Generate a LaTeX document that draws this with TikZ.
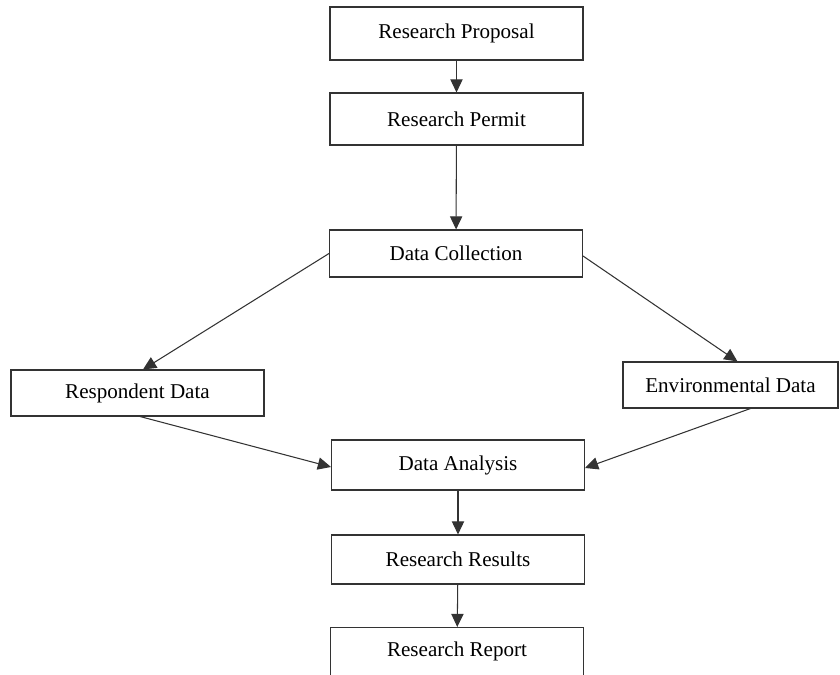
\documentclass[tikz,border=0pt]{standalone}
\usepackage{fontspec}
\setmainfont{Liberation Serif}
\usetikzlibrary{arrows.meta}
\tikzset{stepbox/.style={draw=black!80,line width=0.6pt,minimum width=5.06cm,inner sep=0pt}}
\begin{document}
\begin{tikzpicture}[x=0.02cm,y=-0.02cm,>={Triangle[length=7.5pt,width=7pt]},font=\fontsize{12}{14}\selectfont]
            \clip (0,0) rectangle (840,675);
            \node[stepbox,minimum height=1.06cm] (prop) at (456.5,33.5) {Research Proposal};
            \node[stepbox,minimum height=1.04cm] (permit) at (456.5,119) {Research Permit};
            \node[stepbox,minimum height=0.94cm] (collect) at (456,253.5) {Data Collection};
            \node[stepbox,minimum height=0.92cm] (resp) at (137.5,393) {Respondent Data};
            \node[stepbox,minimum height=0.92cm,minimum width=4.3cm] (env) at (730.5,385) {Environmental Data};
            \node[stepbox,minimum height=1cm] (analysis) at (458,465) {Data Analysis};
            \node[stepbox,minimum height=0.98cm] (results) at (458,559.5) {Research Results};
            \node[stepbox,minimum height=1cm,anchor=north] (report) at (457,627) {};
            \node at (457,651) {Research Report};
            \draw[->,black!80,line width=0.6pt] (prop) -- (permit);
            \draw[->,black!80,line width=0.6pt] (permit) -- (collect);
            \draw[->,black!80,line width=0.6pt] (collect.west) -- ([xshift=0.11cm]resp.north);
            \draw[->,black!80,line width=0.6pt] ([yshift=-0.05cm]collect.east) -- ([xshift=0.14cm]env.north);
            \draw[->,black!80,line width=0.6pt] ([xshift=0.05cm]resp.south) -- ([yshift=-0.04cm]analysis.west);
            \draw[->,black!80,line width=0.6pt] ([xshift=0.4cm]env.south) -- ([yshift=-0.06cm]analysis.east);
            \draw[->,black!80,line width=0.6pt] (analysis) -- (results);
            \draw[->,black!80,line width=0.6pt] (results) -- (report);
        \end{tikzpicture}
\end{document}
